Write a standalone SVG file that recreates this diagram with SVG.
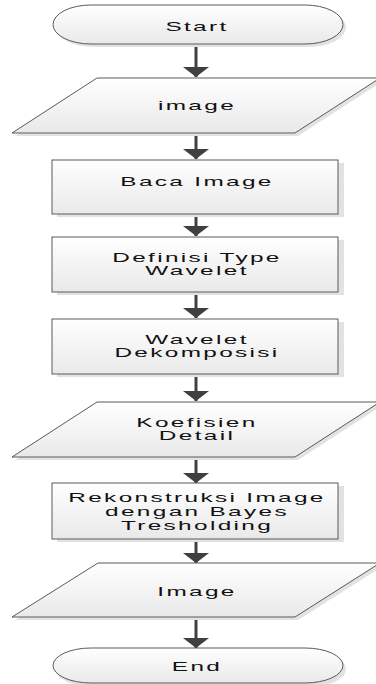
<svg xmlns="http://www.w3.org/2000/svg" width="376" height="684" viewBox="0 0 376 684">
<style>
.shape{fill:url(#g);stroke:#5a5a5a;stroke-width:1}
.shadow{fill:#e2e2e2;stroke:none}
.t{font-family:"Liberation Sans",Arial,sans-serif;font-size:12.5px;fill:#111111;text-anchor:middle;letter-spacing:1.2px}
.c{stroke:#404040;stroke-width:3;fill:none;marker-end:url(#ah)}
</style>
<defs>
<linearGradient id="g" x1="0" y1="0" x2="0" y2="1">
<stop offset="0" stop-color="#ffffff"/>
<stop offset="1" stop-color="#e9e9e9"/>
</linearGradient>
<marker id="ah" markerUnits="userSpaceOnUse" markerWidth="10" markerHeight="26" viewBox="0 -13 10 26" refX="10" refY="0" orient="auto">
<path d="M0,-13 L10,0 L0,13 Z" fill="#404040"/>
</marker>
</defs>
<rect width="376" height="684" fill="#ffffff"/>

<g id="connectors">
<line class="c" x1="196" y1="44" x2="196" y2="77"/>
<line class="c" x1="196" y1="133" x2="196" y2="159"/>
<line class="c" x1="196" y1="214" x2="196" y2="236"/>
<line class="c" x1="196" y1="292" x2="196" y2="318"/>
<line class="c" x1="196" y1="374" x2="196" y2="401"/>
<line class="c" x1="196" y1="457" x2="196" y2="483"/>
<line class="c" x1="196" y1="539" x2="196" y2="563"/>
<line class="c" x1="196" y1="617" x2="196" y2="648"/>
</g>

<g id="start">
<rect class="shadow" x="56" y="8" width="290" height="39" rx="38" ry="20"/>
<rect class="shape" x="53" y="5" width="290" height="39" rx="38" ry="20"/>
<text class="t" transform="translate(197,30.5) scale(1.95,1)">Start</text>
</g>

<g id="input-image">
<polygon class="shadow" points="100,81 383,81 298,136 15,136"/>
<polygon class="shape" points="97,78 380,78 295,133 12,133"/>
<text class="t" transform="translate(197,110) scale(1.95,1)">image</text>
</g>

<g id="baca-image">
<rect class="shadow" x="57" y="163" width="287" height="54"/>
<rect class="shape" x="52" y="160" width="286" height="54"/>
<text class="t" transform="translate(197,186) scale(1.95,1)">Baca Image</text>
</g>

<g id="definisi-type">
<rect class="shadow" x="57" y="240" width="287" height="55"/>
<rect class="shape" x="52" y="237" width="286" height="55"/>
<text class="t" transform="translate(197,261.5) scale(1.95,1)">Definisi Type</text>
<text class="t" transform="translate(197,275) scale(1.95,1)">Wavelet</text>
</g>

<g id="wavelet-dekomposisi">
<rect class="shadow" x="57" y="322" width="287" height="55"/>
<rect class="shape" x="52" y="319" width="286" height="55"/>
<text class="t" transform="translate(197,343.5) scale(1.95,1)">Wavelet</text>
<text class="t" transform="translate(197,357) scale(1.95,1)">Dekomposisi</text>
</g>

<g id="koefisien-detail">
<polygon class="shadow" points="100,405 383,405 298,460 15,460"/>
<polygon class="shape" points="97,402 380,402 295,457 12,457"/>
<text class="t" transform="translate(197,426.5) scale(1.95,1)">Koefisien</text>
<text class="t" transform="translate(197,440) scale(1.95,1)">Detail</text>
</g>

<g id="rekonstruksi">
<rect class="shadow" x="57" y="486" width="287" height="56"/>
<rect class="shape" x="52" y="483" width="286" height="56"/>
<text class="t" transform="translate(197,502) scale(1.95,1)">Rekonstruksi Image</text>
<text class="t" transform="translate(197,516) scale(1.95,1)">dengan Bayes</text>
<text class="t" transform="translate(197,530) scale(1.95,1)">Tresholding</text>
</g>

<g id="output-image">
<polygon class="shadow" points="101,566 383,566 298,620 15,620"/>
<polygon class="shape" points="98,563 380,563 295,617 12,617"/>
<text class="t" transform="translate(197,596) scale(1.95,1)">Image</text>
</g>

<g id="end">
<rect class="shadow" x="56" y="651" width="290" height="36" rx="38" ry="20"/>
<rect class="shape" x="53" y="648" width="290" height="35" rx="38" ry="20"/>
<text class="t" transform="translate(197,670.5) scale(1.95,1)">End</text>
</g>
</svg>
